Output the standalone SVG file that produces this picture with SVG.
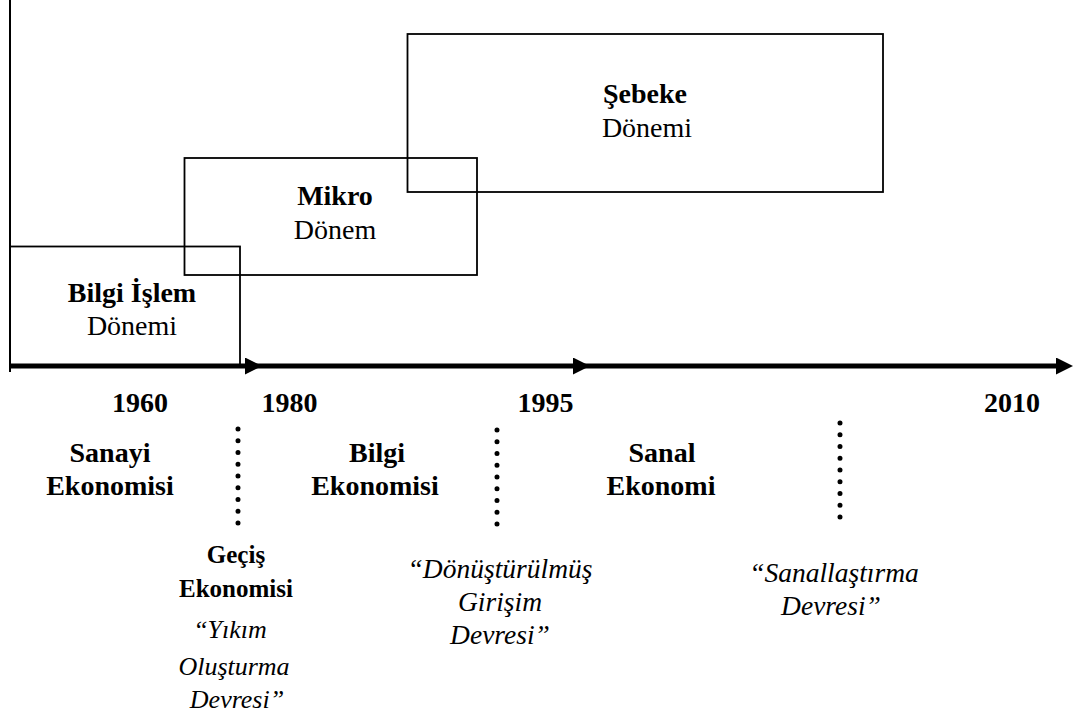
<svg xmlns="http://www.w3.org/2000/svg" width="1075" height="715" viewBox="0 0 1075 715">
  <style>
    text { font-family: "Liberation Serif", "Nimbus Roman", "DejaVu Serif", serif; fill: #000; text-anchor: middle; }
    .b { font-weight: bold; font-size: 28px; }
    .r { font-weight: normal; font-size: 28px; }
    .bs { font-weight: bold; font-size: 25px; }
    .i { font-style: italic; font-size: 27.5px; }
    .is { font-style: italic; font-size: 26px; }
    .box { fill: none; stroke: #000; stroke-width: 1.8; }
    .axis { stroke: #000; stroke-width: 5; fill: none; }
    .dots { stroke: #000; stroke-width: 5; stroke-linecap: round; stroke-dasharray: 0 11.75; fill: none; }
  </style>
  <defs>
    <marker id="arrow" markerUnits="userSpaceOnUse" markerWidth="17" markerHeight="17" refX="5" refY="8.5" orient="auto">
      <path d="M0,0 L17,8.5 L0,17 z" fill="#000"/>
    </marker>
  </defs>

  <rect width="1075" height="715" fill="#fff"/>

  <!-- period boxes -->
  <g id="bilgi-islem">
    <rect class="box" x="10" y="246.5" width="230" height="119.5"/>
    <text class="b" x="132" y="302">Bilgi İşlem</text>
    <text class="r" x="132" y="335">Dönemi</text>
  </g>
  <g id="mikro">
    <rect class="box" x="184.5" y="158" width="292.5" height="117"/>
    <text class="b" x="335" y="205">Mikro</text>
    <text class="r" x="335" y="239">Dönem</text>
  </g>
  <g id="sebeke">
    <rect class="box" x="407.5" y="34" width="475.5" height="158"/>
    <text class="b" x="645" y="103">Şebeke</text>
    <text class="r" x="647" y="137">Dönemi</text>
  </g>

  <!-- time axis -->
  <g id="connectors">
    <line x1="10" y1="0" x2="10" y2="372" stroke="#000" stroke-width="2"/>
    <line class="axis" x1="10" y1="366" x2="250" y2="366" marker-end="url(#arrow)"/>
    <line class="axis" x1="250" y1="366" x2="578" y2="366" marker-end="url(#arrow)"/>
    <line class="axis" x1="578" y1="366" x2="1061" y2="366" marker-end="url(#arrow)"/>
    <line class="dots" x1="238" y1="429" x2="238" y2="524"/>
    <line class="dots" x1="497" y1="430" x2="497" y2="525"/>
    <line class="dots" x1="840" y1="423" x2="840" y2="518"/>
  </g>

  <!-- year ticks -->
  <g id="years">
    <text class="b" x="140" y="412">1960</text>
    <text class="b" x="289.5" y="412">1980</text>
    <text class="b" x="545.5" y="412">1995</text>
    <text class="b" x="1012" y="412">2010</text>
  </g>

  <!-- economies -->
  <g id="sanayi">
    <text class="b" x="110" y="462">Sanayi</text>
    <text class="b" x="110" y="495">Ekonomisi</text>
  </g>
  <g id="bilgi-ekonomisi">
    <text class="b" x="377" y="462">Bilgi</text>
    <text class="b" x="375" y="495">Ekonomisi</text>
  </g>
  <g id="sanal">
    <text class="b" x="662" y="462">Sanal</text>
    <text class="b" x="661" y="495">Ekonomi</text>
  </g>
  <g id="gecis">
    <text class="bs" x="236" y="563">Geçiş</text>
    <text class="bs" x="236" y="597">Ekonomisi</text>
    <text class="is" x="230" y="638">“Yıkım</text>
    <text class="is" x="234" y="675">Oluşturma</text>
    <text class="is" x="237" y="708">Devresi”</text>
  </g>
  <g id="donusturulmus">
    <text class="i" x="500" y="578">“Dönüştürülmüş</text>
    <text class="i" x="500" y="611">Girişim</text>
    <text class="i" x="500" y="644">Devresi”</text>
  </g>
  <g id="sanallastirma">
    <text class="i" x="834" y="582">“Sanallaştırma</text>
    <text class="i" x="831" y="615">Devresi”</text>
  </g>
</svg>
